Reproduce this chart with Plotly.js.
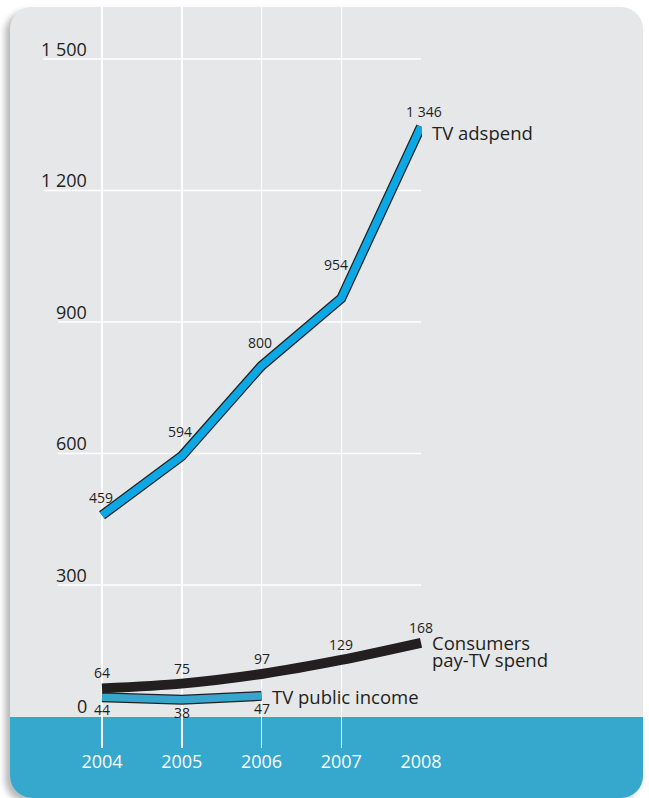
<!DOCTYPE html>
<html>
<head>
<meta charset="utf-8">
<script src="https://cdn.plot.ly/plotly-3.0.1.min.js"></script>
<style>
  html, body { margin: 0; padding: 0; background: #ffffff; width: 649px; height: 798px; overflow: hidden; }
  #card { position: absolute; left: 10px; top: 7px; width: 633px; height: 791px; border-radius: 22px;
          background: #e6e7e9; overflow: hidden; box-shadow: -5px 4px 6px rgba(0,0,0,0.28); }
  #band { position: absolute; left: 0; top: 710px; width: 100%; height: 100px; background: #36a7cd; }
  #chart { position: absolute; left: 0; top: 0; width: 649px; height: 798px; }
</style>
</head>
<body>
<div id="card"><div id="band"></div></div>
<div id="chart"></div>
<script>
// ---- data ----
const years = [2004, 2005, 2006, 2007, 2008];
const tvAdspend = [459, 594, 800, 954, 1346];
const tvAdspendLabels = ['459', '594', '800', '954', '1 346'];
const payTvSpend = [64, 75, 97, 129, 168];
const payTvLabels = ['64', '75', '97', '129', '168'];
const publicYears = [2004, 2005, 2006];
const publicIncome = [44, 38, 47];
const publicLabels = ['44', '38', '47'];
const yTickVals = [0, 300, 600, 900, 1200, 1500];
const yTickText = ['0', '300', '600', '900', '1 200', '1 500'];
const seriesNames = { ad: 'TV adspend', pay1: 'Consumers', pay2: 'pay-TV spend', pub: 'TV public income' };

// ---- styling ----
const FONT = 'Open Sans, Noto Sans, sans-serif';
const DARK = '#231f20';
const AD_BLUE = '#0aa8e4';
const PUB_BLUE = '#37a6cc';
const W = 649, H = 798;
const margin = { l: 40, r: 227, t: 7, b: 50 };
const xRange = [2003.2226, 2008.0125];
const yRange = [-71.9, 1618.6];
const plotW = W - margin.l - margin.r;
const pxPerYear = plotW / (xRange[1] - xRange[0]);

// label offsets (pixels) for the adspend labels
const adShiftX = [-1.5, -1.5, -2, -5, 3];
const adShiftY = [18, 24.5, 23, 34, 15];

const traces = [
  { x: publicYears, y: publicIncome, mode: 'lines', line: { color: DARK, width: 10 }, hoverinfo: 'skip' },
  { x: publicYears, y: publicIncome, mode: 'lines', line: { color: PUB_BLUE, width: 7.5 }, hoverinfo: 'skip' },
  { x: years, y: payTvSpend, mode: 'lines', line: { color: DARK, width: 10, shape: 'spline', smoothing: 0.8 }, hoverinfo: 'skip' },
  { x: years, y: tvAdspend, mode: 'lines', line: { color: DARK, width: 10 }, hoverinfo: 'skip' },
  { x: years, y: tvAdspend, mode: 'lines', line: { color: AD_BLUE, width: 7.5 }, hoverinfo: 'skip' }
];

const annotations = [];
const labelFont = { family: FONT, size: 14, color: DARK };
tvAdspend.forEach((v, i) => annotations.push({
  x: years[i], y: v, xref: 'x', yref: 'y', text: tvAdspendLabels[i], showarrow: false,
  xanchor: 'center', yanchor: 'middle', xshift: adShiftX[i], yshift: adShiftY[i], font: labelFont
}));
payTvSpend.forEach((v, i) => annotations.push({
  x: years[i], y: v, xref: 'x', yref: 'y', text: payTvLabels[i], showarrow: false,
  xanchor: 'center', yanchor: 'middle', yshift: 15.5, font: labelFont
}));
publicIncome.forEach((v, i) => annotations.push({
  x: publicYears[i], y: v, xref: 'x', yref: 'y', text: publicLabels[i], showarrow: false,
  xanchor: 'center', yanchor: 'middle', yshift: -12.5, font: labelFont
}));

// series names
const nameFont = { family: FONT, size: 18.5, color: DARK };
const lastAd = tvAdspend.length - 1;
annotations.push({ x: years[lastAd], y: tvAdspend[lastAd], xref: 'x', yref: 'y', text: seriesNames.ad, showarrow: false,
  xanchor: 'left', yanchor: 'middle', xshift: 9, yshift: -6, font: nameFont });
const lastPay = payTvSpend.length - 1;
annotations.push({ x: years[lastPay], y: payTvSpend[lastPay], xref: 'x', yref: 'y', text: seriesNames.pay1, showarrow: false,
  xanchor: 'left', yanchor: 'middle', xshift: 9, yshift: 0, font: nameFont });
annotations.push({ x: years[lastPay], y: payTvSpend[lastPay], xref: 'x', yref: 'y', text: seriesNames.pay2, showarrow: false,
  xanchor: 'left', yanchor: 'middle', xshift: 9, yshift: -17, font: nameFont });
const lastPub = publicIncome.length - 1;
annotations.push({ x: publicYears[lastPub], y: publicIncome[lastPub], xref: 'x', yref: 'y', text: seriesNames.pub, showarrow: false,
  xanchor: 'left', yanchor: 'middle', xshift: 8, yshift: -1, font: nameFont });

// y tick labels (drawn above their grid lines) and grid lines starting under the labels
const tickFont = { family: FONT, size: 18, color: DARK };
const canvas = document.createElement('canvas');
const ctx = canvas.getContext('2d');
ctx.font = '18px "Open Sans"';
const shapes = [];
yTickVals.forEach((v, i) => {
  annotations.push({ x: years[0], y: v, xref: 'x', yref: 'y', text: yTickText[i], showarrow: false,
    xanchor: 'right', yanchor: 'bottom', xshift: -13, yshift: -4, font: tickFont });
  if (v > 0) {
    const w = ctx.measureText(yTickText[i]).width;
    shapes.push({ type: 'line', xref: 'x', yref: 'y', layer: 'below',
      x0: years[0] - (13 + w) / pxPerYear, x1: years[years.length - 1], y0: v, y1: v,
      line: { color: '#ffffff', width: 1.5 } });
  }
});

const layout = {
  width: W, height: H, margin: margin,
  paper_bgcolor: 'rgba(0,0,0,0)', plot_bgcolor: 'rgba(0,0,0,0)',
  showlegend: false,
  font: { family: FONT, color: DARK },
  xaxis: { range: xRange, tickvals: years, ticktext: years.map(String), showgrid: true, gridcolor: '#ffffff',
    gridwidth: 1.5, zeroline: false, showline: false, ticks: '', ticklabelstandoff: 1,
    tickfont: { family: FONT, size: 18, color: '#ffffff' }, fixedrange: true },
  yaxis: { range: yRange, showgrid: false, zeroline: false, showline: false, showticklabels: false, ticks: '', fixedrange: true },
  shapes: shapes,
  annotations: annotations
};

Plotly.newPlot('chart', traces, layout, { displayModeBar: false, staticPlot: true });
</script>
</body>
</html>
